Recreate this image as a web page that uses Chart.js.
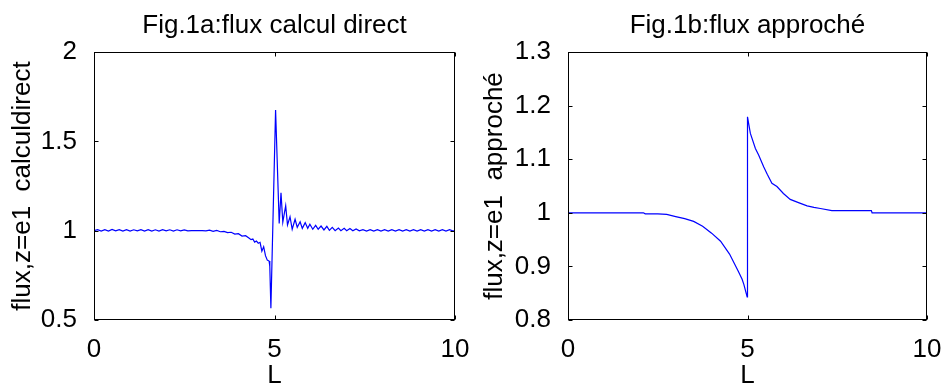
<!DOCTYPE html>
<html>
<head>
<meta charset="utf-8">
<script src="https://cdn.jsdelivr.net/npm/chart.js@4.4.1/dist/chart.umd.min.js"></script>
<style>
  html, body { margin: 0; padding: 0; background: #fff; }
  #wrap { display: flex; width: 942px; height: 387px; }
  canvas { display: block; }
</style>
</head>
<body>
<div id="wrap">
  <canvas id="direct" width="471" height="387"></canvas>
  <canvas id="approx" width="471" height="387"></canvas>
</div>
<script>
// Fig.1a : flux calcul direct (L, flux)
const directL = [0,0.1,0.2,0.3,0.4,0.5,0.6,0.7,0.8,0.9,1.0,1.1,1.2,1.3,1.4,1.5,1.6,1.7,1.8,1.9,2.0,2.1,2.2,2.3,2.4,2.5,2.6,2.7,2.8,2.9,3.0,
  3.1,3.2,3.3,3.4,3.5,3.6,3.7,3.8,3.9,4.0,4.1,4.2,4.3,
  4.35,4.4,4.45,4.5,4.55,4.6,4.65,4.7,4.75,4.8,4.85,4.87,4.9,
  5.03,5.13,5.18,5.23,5.31,5.36,5.43,5.49,5.57,5.63,5.71,5.77,5.85,5.92,5.98,6.06,6.14,6.21,6.29,6.37,6.45,6.52,6.6,6.68,6.77,6.84,6.93,7.0,7.09,
  7.17,7.26,7.35,
  7.45,7.55,7.65,7.75,7.85,7.95,8.05,8.15,8.25,8.35,8.45,8.55,8.65,8.75,8.85,8.95,9.05,9.15,9.25,9.35,9.45,9.55,9.65,9.75,9.85,9.95,10.0];
const directFlux = [1.000,1.006,0.998,1.006,0.998,1.007,0.999,1.006,0.998,1.006,0.998,1.005,0.999,1.006,0.998,1.006,0.998,1.005,0.998,1.006,0.999,1.005,0.998,1.005,0.999,1.004,0.999,1.000,1.000,1.000,1.000,
  0.999,1.003,0.996,1.001,0.994,0.996,0.989,0.991,0.981,0.983,0.970,0.972,0.958,
  0.950,0.953,0.936,0.942,0.930,0.935,0.885,0.910,0.860,0.835,0.830,0.800,0.566,
  1.675,1.040,1.212,1.048,1.140,1.032,1.078,1.008,1.064,1.019,1.050,1.013,1.045,1.013,1.036,1.008,1.030,1.008,1.026,1.004,1.024,1.002,1.019,1.000,1.015,1.000,1.013,1.000,1.012,
  1.000,1.010,0.999,
  1.006,0.998,1.006,0.998,1.006,0.998,1.006,0.998,1.006,0.998,1.006,0.998,1.006,0.998,1.006,0.998,1.006,0.998,1.006,0.998,1.006,0.998,1.006,0.998,1.006,0.998,1.002];

// Fig.1b : flux approché (L, flux)
const approxL = [0,1,2,2.1,2.15,2.5,2.75,3.0,3.25,3.5,3.75,4.0,4.25,4.5,4.75,4.85,4.9,4.99,5.0,5.08,5.22,5.31,5.45,5.55,5.68,5.82,6.0,6.19,6.42,6.66,6.85,7.03,7.35,7.5,8.45,8.47,10];
const approxFlux = [1,1,1,1,0.998,0.998,0.997,0.993,0.989,0.984,0.975,0.962,0.947,0.923,0.890,0.876,0.866,0.843,1.179,1.148,1.120,1.108,1.086,1.072,1.055,1.049,1.036,1.025,1.019,1.013,1.010,1.008,1.004,1.004,1.004,1.0,1.0];

const xTicks = [0, 5, 10];
const directTicks = [0.5, 1, 1.5, 2];
const approxTicks = [0.8, 0.9, 1, 1.1, 1.2, 1.3];

Chart.defaults.font.family = "'Liberation Sans', Arial, sans-serif";
Chart.defaults.color = '#000';

const fmt = v => String(Math.round(v * 100) / 100);

// black frame round the plot with small inward ticks, matlab style
const boxTicks = {
  id: 'boxTicks',
  afterDraw(chart) {
    const { ctx, chartArea: a, scales: { x, y } } = chart;
    const L = Math.round(a.left) + 0.5, R = Math.round(a.right) - 0.5;
    const T = Math.round(a.top) + 0.5, B = Math.round(a.bottom) - 0.5;
    ctx.save();
    ctx.strokeStyle = '#000';
    ctx.lineWidth = 1;
    ctx.strokeRect(L, T, R - L, B - T);
    ctx.beginPath();
    x.ticks.forEach(t => {
      const p = Math.round(x.getPixelForValue(t.value)) + 0.5;
      ctx.moveTo(p, B); ctx.lineTo(p, B - 4);
      ctx.moveTo(p, T); ctx.lineTo(p, T + 4);
    });
    y.ticks.forEach(t => {
      const p = Math.round(y.getPixelForValue(t.value)) + 0.5;
      ctx.moveTo(L, p); ctx.lineTo(L + 4, p);
      ctx.moveTo(R, p); ctx.lineTo(R - 4, p);
    });
    ctx.stroke();
    ctx.restore();
  }
};

function makeChart(id, title, yLabel, xs, ys, yTicks, yWidth, padRight, yTitlePad) {
  return new Chart(document.getElementById(id), {
    type: 'scatter',
    data: {
      datasets: [{
        data: xs.map((v, i) => ({ x: v, y: ys[i] })),
        showLine: true,
        borderColor: '#0000ff',
        borderWidth: 1.2,
        pointRadius: 0,
        tension: 0
      }]
    },
    options: {
      responsive: false,
      animation: false,
      layout: { padding: { top: 0, right: padRight, bottom: 0, left: 0 } },
      plugins: {
        legend: { display: false },
        tooltip: { enabled: false },
        title: {
          display: true,
          text: title,
          fullSize: false,
          color: '#000',
          font: { size: 26, weight: 'normal', lineHeight: 1.2 },
          padding: { top: 10, bottom: 10.8 }
        }
      },
      scales: {
        x: {
          type: 'linear',
          min: 0, max: 10,
          afterBuildTicks: s => { s.ticks = xTicks.map(v => ({ value: v })); },
          afterFit: s => { s.height = 67; s.paddingLeft = 0; s.paddingRight = 0; },
          grid: { display: false },
          border: { display: false },
          ticks: { font: { size: 26 }, padding: 6, maxRotation: 0, callback: fmt },
          title: { display: true, text: 'L', font: { size: 26, lineHeight: 0.85 }, padding: { top: 0, bottom: 0 } }
        },
        y: {
          min: yTicks[0], max: yTicks[yTicks.length - 1],
          afterBuildTicks: s => { s.ticks = yTicks.map(v => ({ value: v })); },
          afterFit: s => { s.width = yWidth; },
          grid: { display: false },
          border: { display: false },
          ticks: { font: { size: 26 }, padding: 9, callback: fmt },
          title: { display: true, text: yLabel, font: { size: 26, lineHeight: 1.2 }, padding: { top: yTitlePad, bottom: 0 } }
        }
      }
    },
    plugins: [boxTicks]
  });
}

makeChart('direct', 'Fig.1a:flux calcul direct', 'flux,z=e1  calculdirect',
  directL, directFlux, directTicks, 94, 16, 7);
makeChart('approx', 'Fig.1b:flux approché', 'flux,z=e1  approché',
  approxL, approxFlux, approxTicks, 97, 15, 8);
</script>
</body>
</html>
